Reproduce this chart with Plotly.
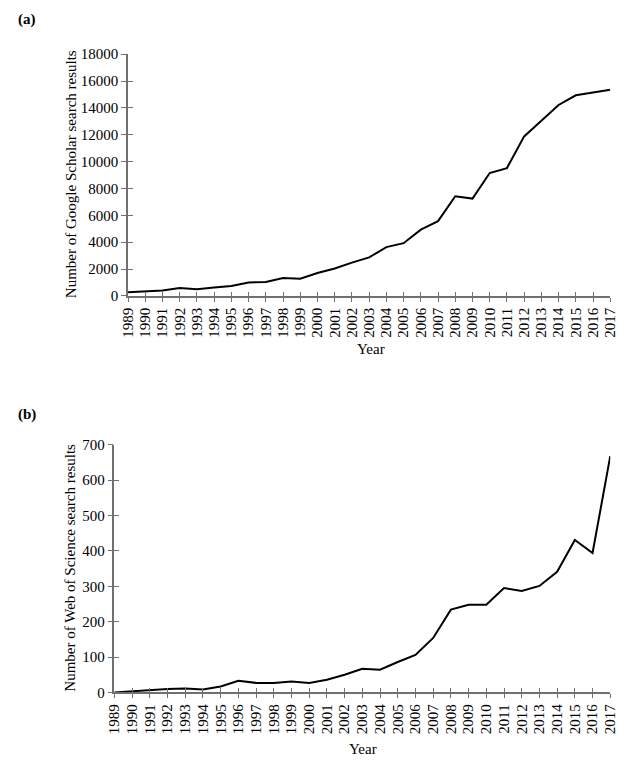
import plotly.graph_objects as go

years = list(range(1989, 2018))
year_labels = [str(y) for y in years]

google_scholar = [270, 310, 400, 600, 500, 630, 750, 1010, 1040, 1330, 1280, 1710, 2050,
                  2480, 2870, 3640, 3930, 4940, 5570, 7420, 7250, 9150, 9520, 11880, 13050,
                  14220, 14940, 15150, 15350]
web_of_science = [0, 3, 8, 10, 11, 8, 17, 33, 27, 27, 31, 27, 36, 50, 67, 64, 86, 106,
                  154, 234, 248, 248, 295, 287, 301, 341, 431, 394, 668]

# The page body has an 8px margin, so the figure is shrunk and all
# reference pixel positions are shifted by that offset.
OFF = 8
W, H = 628 - OFF, 767 - OFF
def px_x(p): return (p - OFF) / W
def px_y(p): return 1 - (p - OFF) / H

FONT = "Liberation Serif, Times New Roman, serif"
AX = "#707070"

fig = go.Figure()
fig.add_trace(go.Scatter(x=years, y=google_scholar, mode="lines", line=dict(color="black", width=2),
                         xaxis="x", yaxis="y", showlegend=False, hoverinfo="skip"))
fig.add_trace(go.Scatter(x=years, y=web_of_science, mode="lines", line=dict(color="black", width=2),
                         xaxis="x2", yaxis="y2", showlegend=False, hoverinfo="skip"))
# invisible copies that carry the inward halves of the crossing ticks
fig.add_trace(go.Scatter(x=years, y=google_scholar, mode="lines", opacity=0,
                         xaxis="x3", yaxis="y3", showlegend=False, hoverinfo="skip"))
fig.add_trace(go.Scatter(x=years, y=web_of_science, mode="lines", opacity=0,
                         xaxis="x4", yaxis="y4", showlegend=False, hoverinfo="skip"))

tickfont = dict(family=FONT, size=15, color="black")
xa_common = dict(range=[1989, 2017], tickmode="array", tickvals=years, ticktext=year_labels,
                 tickangle=-90, showgrid=False, zeroline=False, showline=True, linecolor=AX,
                 linewidth=1.5, ticks="outside", ticklen=4, tickcolor=AX, tickwidth=1.3,
                 tickfont=tickfont)
xa_inner = dict(range=[1989, 2017], tickmode="array", tickvals=years, showticklabels=False,
                showgrid=False, zeroline=False, showline=False, ticks="inside", ticklen=4,
                tickcolor=AX, tickwidth=1.3)
ya_common = dict(showgrid=False, zeroline=False, showline=True, linecolor=AX, linewidth=1.5,
                 ticks="outside", ticklen=5, tickcolor=AX, tickwidth=1.3, tickformat="d",
                 tickfont=tickfont)
ya_inner = dict(showgrid=False, zeroline=False, showline=False, showticklabels=False,
                ticks="inside", ticklen=5, tickcolor=AX, tickwidth=1.3)

yticks_a = list(range(0, 18001, 2000))
yticks_b = list(range(0, 701, 100))

fig.update_layout(
    width=W, height=H, margin=dict(l=0, r=0, t=0, b=0),
    paper_bgcolor="white", plot_bgcolor="white",
    xaxis=dict(domain=[px_x(123), px_x(618)], anchor="y", **xa_common),
    yaxis=dict(domain=[px_y(294), px_y(47)], anchor="x", range=[0, 18000],
               tickvals=yticks_a, **ya_common),
    xaxis2=dict(domain=[px_x(109), px_x(618)], anchor="y2", **xa_common),
    yaxis2=dict(domain=[px_y(699), px_y(446)], anchor="x2", range=[0, 700],
                tickvals=yticks_b, **ya_common),
    xaxis3=dict(overlaying="x", anchor="y", **xa_inner),
    yaxis3=dict(overlaying="y", anchor="x", range=[0, 18000], tickvals=yticks_a, **ya_inner),
    xaxis4=dict(overlaying="x2", anchor="y2", **xa_inner),
    yaxis4=dict(overlaying="y2", anchor="x2", range=[0, 700], tickvals=yticks_b, **ya_inner),
)

ann_font = dict(family=FONT, size=15, color="black")
def note(text, x, y, angle=0, xanchor="center"):
    fig.add_annotation(text=text, x=px_x(x), y=px_y(y), xref="paper", yref="paper",
                       xanchor=xanchor, yanchor="middle", textangle=angle,
                       showarrow=False, font=ann_font)

note("<b>(a)</b>", 8, 12, xanchor="left")
note("<b>(b)</b>", 8, 415, xanchor="left")
note("Number of Google Scholar search results", 64, 170, angle=-90)
note("Number of Web of Science search results", 64, 572, angle=-90)
note("Year", 372, 348)
note("Year", 364, 757)

fig.write_html("out.html")
